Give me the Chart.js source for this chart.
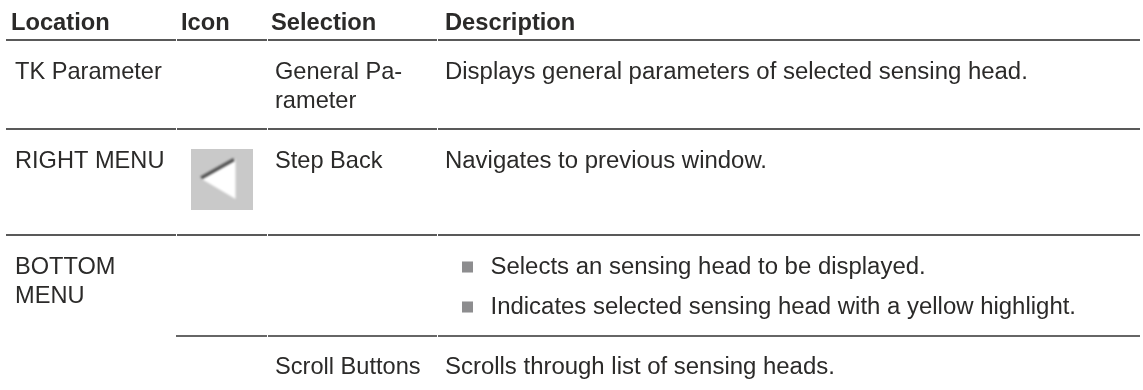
<!DOCTYPE html>
<html>
<head>
<meta charset="utf-8">
<style>
  html, body { margin: 0; padding: 0; background: #fff; }
  canvas { display: block; }
</style>
<script src="https://cdn.jsdelivr.net/npm/chart.js@4"></script>
</head>
<body>
<canvas id="tableChart" width="1143" height="390"></canvas>
<script>
const headers = ["Location", "Icon", "Selection", "Description"];
const locations = [["TK Parameter"], ["RIGHT MENU"], ["BOTTOM", "MENU"]];
const selections = [["General Pa-", "rameter"], ["Step Back"], ["Scroll Buttons"]];
const descriptions = [
  "Displays general parameters of selected sensing head.",
  "Navigates to previous window.",
  "Scrolls through list of sensing heads."
];
const bullets = [
  "Selects an sensing head to be displayed.",
  "Indicates selected sensing head with a yellow highlight."
];

// layout of the table, in page pixels
const headerX = [11, 181, 271, 445];
const locationX = 15;
const selectionX = 275;
const descriptionX = 445;
const columnEdges = [6, 176, 267, 437, 1140];
const ruleY = [40, 129, 235, 336];
const bulletX = 467.5;
const bulletY = [267, 307];
const bulletTextX = 490.5;
const rowBaseline = [79, 168, 273.5, 373.5];
const lineHeight = 29;

const textColor = "#2b2a29";
const locationFont = "23.6px 'Liberation Sans'";
const bodyFont = "23.95px 'Liberation Sans'";
const headFont = "bold 23.7px 'Liberation Sans'";

function ruleSegments() {
  const sets = [];
  ruleY.forEach((y, r) => {
    // the last rule only runs under the right three columns
    const first = r === 3 ? 1 : 0;
    for (let c = first; c < columnEdges.length - 1; c++) {
      sets.push({
        type: "line",
        data: [
          { x: columnEdges[c] + (c > first ? 1 : 0), y: y },
          { x: columnEdges[c + 1], y: y }
        ],
        borderColor: r === 3 ? "#666666" : "#222222",
        borderWidth: r === 3 ? 2 : 1.5,
        pointRadius: 0
      });
    }
  });
  return sets;
}

const tableText = {
  id: "tableText",
  afterDatasetsDraw(chart) {
    const ctx = chart.ctx;
    const px = v => chart.scales.x.getPixelForValue(v);
    const py = v => chart.scales.y.getPixelForValue(v);

    const put = (text, x, y, font) => {
      ctx.font = font;
      ctx.fillStyle = textColor;
      ctx.textBaseline = "alphabetic";
      ctx.fillText(text, px(x), py(y));
    };

    ctx.save();
    headers.forEach((h, i) => put(h, headerX[i], 30, headFont));

    locations.forEach((lines, r) => {
      lines.forEach((t, i) => put(t, locationX, rowBaseline[r] + i * lineHeight, locationFont));
    });

    selections[0].forEach((t, i) => put(t, selectionX, rowBaseline[0] + i * lineHeight, locationFont));
    selections[1].forEach((t, i) => put(t, selectionX, rowBaseline[1] + i * lineHeight, locationFont));
    selections[2].forEach((t, i) => put(t, selectionX, rowBaseline[3] + i * lineHeight, locationFont));

    put(descriptions[0], descriptionX, rowBaseline[0], bodyFont);
    put(descriptions[1], descriptionX, rowBaseline[1], bodyFont);
    put(descriptions[2], descriptionX, rowBaseline[3], bodyFont);

    put(bullets[0], bulletTextX, rowBaseline[2], bodyFont);
    put(bullets[1], bulletTextX, rowBaseline[2] + 40, bodyFont);

    // step back icon
    ctx.fillStyle = "#c9c9c9";
    ctx.fillRect(px(191), py(149), 62, 61);
    ctx.filter = "blur(1px)";
    ctx.fillStyle = "#ffffff";
    ctx.beginPath();
    ctx.moveTo(px(200), py(178));
    ctx.lineTo(px(235.5), py(159));
    ctx.lineTo(px(235.5), py(199));
    ctx.closePath();
    ctx.fill();
    ctx.strokeStyle = "#4f4f4f";
    ctx.lineWidth = 3.5;
    ctx.beginPath();
    ctx.moveTo(px(201), py(178));
    ctx.lineTo(px(234), py(159.5));
    ctx.stroke();
    ctx.restore();
  }
};

new Chart(document.getElementById("tableChart").getContext("2d"), {
  type: "scatter",
  data: {
    datasets: [
      ...ruleSegments(),
      {
        type: "scatter",
        data: bulletY.map(y => ({ x: bulletX, y: y })),
        pointStyle: "rect",
        pointRadius: 7.8,
        backgroundColor: "#8d8d8f",
        borderWidth: 0
      }
    ]
  },
  plugins: [tableText],
  options: {
    responsive: false,
    animation: false,
    layout: { padding: 0, autoPadding: false },
    plugins: { legend: { display: false }, tooltip: { enabled: false } },
    scales: {
      x: { type: "linear", display: false, min: 0, max: 1143 },
      y: { type: "linear", display: false, min: 0, max: 390, reverse: true }
    }
  }
});
</script>
</body>
</html>
